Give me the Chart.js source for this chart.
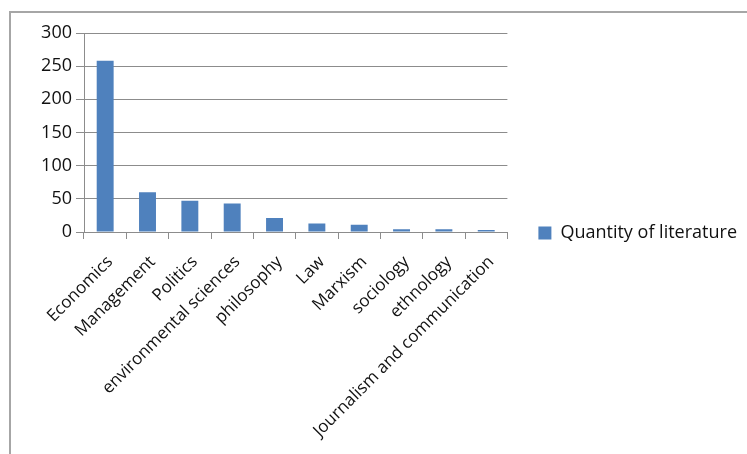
<!DOCTYPE html>
<html>
<head>
<meta charset="utf-8">
<script src="https://cdn.jsdelivr.net/npm/chart.js@4"></script>
<style>
  html, body { margin: 0; padding: 0; background: #fff; }
  #wrap { position: relative; width: 747px; height: 454px; overflow: hidden; }
  #frame { position: absolute; left: 9px; top: 11px; width: 900px; height: 600px;
           border-left: 2px solid #a6a6a6; border-top: 2px solid #a6a6a6; }
  canvas { position: absolute; left: 0; top: 0; }
</style>
</head>
<body>
<div id="wrap">
  <div id="frame"></div>
  <canvas id="chart" width="747" height="454"></canvas>
</div>
<script>
const categories = [
  'Economics', 'Management', 'Politics', 'environmental sciences', 'philosophy',
  'Law', 'Marxism', 'sociology', 'ethnology', 'Journalism and communication'
];
const quantity = [258, 60, 47, 43, 21, 13, 11, 4, 4, 3];
const seriesName = 'Quantity of literature';

const gridColor = '#8c8c8c';
const font = 'Open Sans';

// let the long rotated labels run below the x scale box without being clipped
const noLabelClip = {
  id: 'noLabelClip',
  afterLayout(chart) { chart.scales.x.bottom = chart.height; }
};

new Chart(document.getElementById('chart'), {
  type: 'bar',
  data: {
    labels: categories,
    datasets: [{
      label: seriesName,
      data: quantity,
      backgroundColor: '#4f81bd',
      barPercentage: 0.4,
      categoryPercentage: 1
    }]
  },
  options: {
    responsive: false,
    animation: false,
    layout: { padding: { left: 0, top: 33, right: 0, bottom: 21 } },
    plugins: {
      tooltip: { enabled: false },
      legend: {
        position: 'right',
        maxWidth: 280,
        labels: {
          boxWidth: 13,
          boxHeight: 13,
          padding: 31,
          color: '#111',
          font: { family: font, size: 18 }
        }
      }
    },
    scales: {
      x: {
        offset: true,
        grid: { drawOnChartArea: false, drawTicks: true, tickLength: 7, color: gridColor, offset: true },
        border: { color: gridColor },
        ticks: {
          minRotation: 45,
          maxRotation: 45,
          autoSkip: false,
          padding: 13,
          labelOffset: 5,
          color: '#111',
          font: { family: font, size: 17 }
        },
        afterFit(scale) { scale.height = 454 - 21 - 232; }
      },
      y: {
        min: 0,
        max: 300,
        ticks: { stepSize: 50, padding: 4, color: '#111', font: { family: font, size: 18 } },
        grid: { color: gridColor, tickLength: 8 },
        border: { color: gridColor },
        afterFit(scale) { scale.width = 84; }
      }
    }
  },
  plugins: [noLabelClip]
});
</script>
</body>
</html>
